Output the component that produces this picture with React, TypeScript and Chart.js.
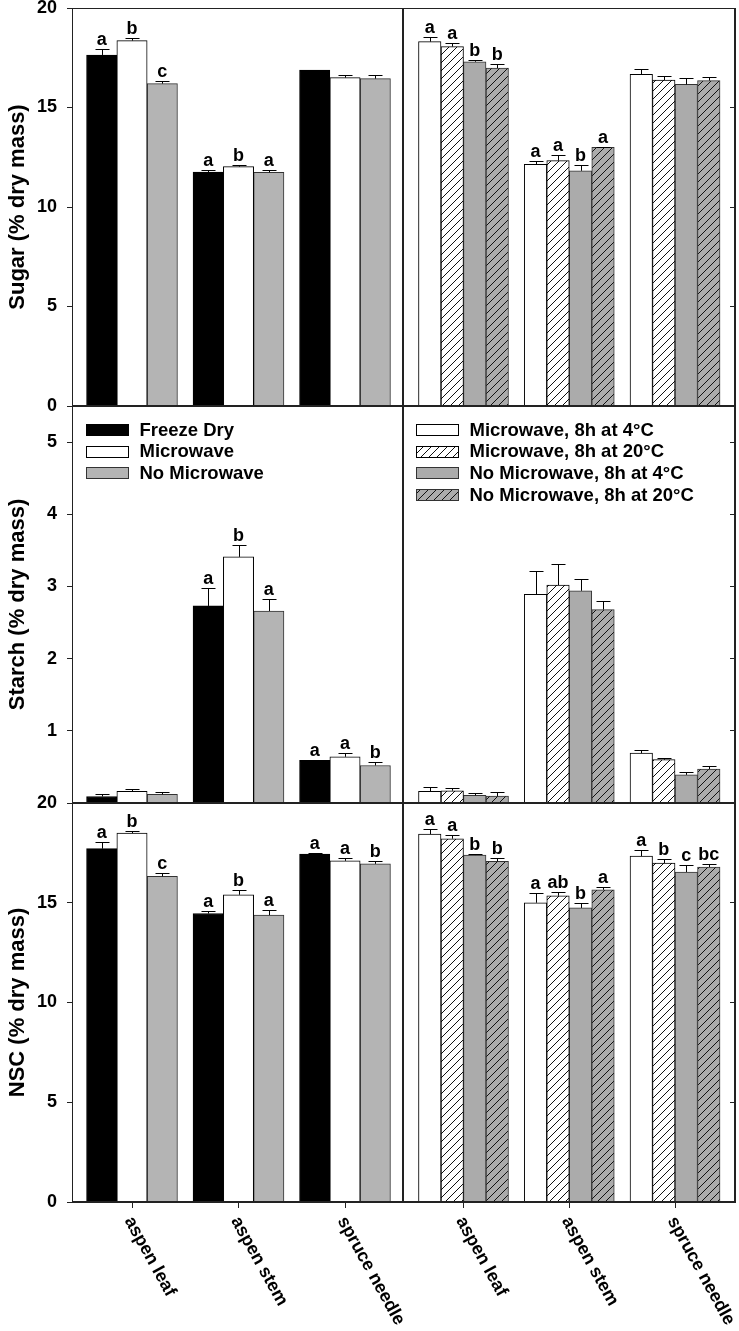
import React, { useEffect, useRef } from 'react';
import { Chart, registerables } from 'chart.js';

Chart.register(...registerables);

const FONT_FAMILY = '"Liberation Sans", Arial, Helvetica, sans-serif';

// ---------- data ----------
const categories = ['aspen leaf', 'aspen stem', 'spruce needle'];
const leftLabels = ['Freeze Dry', 'Microwave', 'No Microwave'];
const rightLabels = [
  'Microwave, 8h at 4°C',
  'Microwave, 8h at 20°C',
  'No Microwave, 8h at 4°C',
  'No Microwave, 8h at 20°C',
];

const sugarTicks = [0, 5, 10, 15, 20];
const starchTicks = [1, 2, 3, 4, 5];
const nscTicks = [0, 5, 10, 15, 20];

// Sugar, left
const sugarFreezeDry = [17.64, 11.76, 16.88];
const sugarFreezeDryErr = [0.3, 0.11, 0.02];
const sugarFreezeDryLetters = ['a', 'a', ''];
const sugarMicrowave = [18.36, 12.03, 16.5];
const sugarMicrowaveErr = [0.12, 0.1, 0.15];
const sugarMicrowaveLetters = ['b', 'b', ''];
const sugarNoMicrowave = [16.2, 11.74, 16.45];
const sugarNoMicrowaveErr = [0.13, 0.12, 0.17];
const sugarNoMicrowaveLetters = ['c', 'a', ''];

// Sugar, right
const sugarMW4 = [18.31, 12.14, 16.67];
const sugarMW4Err = [0.25, 0.15, 0.26];
const sugarMW4Letters = ['a', 'a', ''];
const sugarMW20 = [18.06, 12.33, 16.38];
const sugarMW20Err = [0.17, 0.28, 0.2];
const sugarMW20Letters = ['a', 'a', ''];
const sugarNoMW4 = [17.3, 11.82, 16.16];
const sugarNoMW4Err = [0.09, 0.27, 0.34];
const sugarNoMW4Letters = ['b', 'b', ''];
const sugarNoMW20 = [16.98, 13.0, 16.35];
const sugarNoMW20Err = [0.22, 0.03, 0.17];
const sugarNoMW20Letters = ['b', 'a', ''];

// Starch, left
const starchFreezeDry = [0.09, 2.73, 0.59];
const starchFreezeDryErr = [0.03, 0.25, 0.01];
const starchFreezeDryLetters = ['', 'a', 'a'];
const starchMicrowave = [0.16, 3.41, 0.64];
const starchMicrowaveErr = [0.03, 0.17, 0.05];
const starchMicrowaveLetters = ['', 'b', 'a'];
const starchNoMicrowave = [0.12, 2.66, 0.52];
const starchNoMicrowaveErr = [0.03, 0.17, 0.05];
const starchNoMicrowaveLetters = ['', 'a', 'b'];

// Starch, right
const starchMW4 = [0.16, 2.89, 0.69];
const starchMW4Err = [0.06, 0.33, 0.05];
const starchMW20 = [0.17, 3.02, 0.6];
const starchMW20Err = [0.04, 0.29, 0.02];
const starchNoMW4 = [0.105, 2.94, 0.39];
const starchNoMW4Err = [0.03, 0.17, 0.04];
const starchNoMW20 = [0.097, 2.68, 0.47];
const starchNoMW20Err = [0.05, 0.12, 0.04];
const noLetters = ['', '', ''];

// NSC, left
const nscFreezeDry = [17.71, 14.46, 17.44];
const nscFreezeDryErr = [0.33, 0.15, 0.03];
const nscFreezeDryLetters = ['a', 'a', 'a'];
const nscMicrowave = [18.49, 15.4, 17.1];
const nscMicrowaveErr = [0.13, 0.25, 0.15];
const nscMicrowaveLetters = ['b', 'b', 'a'];
const nscNoMicrowave = [16.32, 14.38, 16.95];
const nscNoMicrowaveErr = [0.15, 0.25, 0.15];
const nscNoMicrowaveLetters = ['c', 'a', 'b'];

// NSC, right
const nscMW4 = [18.44, 15.0, 17.34];
const nscMW4Err = [0.27, 0.48, 0.28];
const nscMW4Letters = ['a', 'a', 'a'];
const nscMW20 = [18.21, 15.35, 16.99];
const nscMW20Err = [0.2, 0.21, 0.18];
const nscMW20Letters = ['a', 'ab', 'b'];
const nscNoMW4 = [17.39, 14.74, 16.54];
const nscNoMW4Err = [0.05, 0.27, 0.35];
const nscNoMW4Letters = ['b', 'b', 'c'];
const nscNoMW20 = [17.07, 15.65, 16.79];
const nscNoMW20Err = [0.15, 0.13, 0.16];
const nscNoMW20Letters = ['b', 'a', 'bc'];

// ---------- styles ----------
type StyleDef = { fill: string; hatch: boolean; border: string };
const leftStyles: StyleDef[] = [
  { fill: '#000000', hatch: false, border: '#000000' },
  { fill: '#ffffff', hatch: false, border: '#000000' },
  { fill: '#b4b4b4', hatch: false, border: '#333333' },
];
const rightStyles: StyleDef[] = [
  { fill: '#ffffff', hatch: false, border: '#000000' },
  { fill: '#ffffff', hatch: true, border: '#000000' },
  { fill: '#ababab', hatch: false, border: '#333333' },
  { fill: '#ababab', hatch: true, border: '#333333' },
];

type SeriesDef = { label: string; values: number[]; errors: number[]; letters: string[] };

type PanelDef = {
  key: string;
  left: number;
  top: number;
  width: number;
  height: number;
  padding: { left: number; right: number; top: number; bottom: number };
  side: 'left' | 'right';
  xMin: number;
  xMax: number;
  yMax: number;
  yTicks: number[];
  title: string;
  barThickness: number;
  series: SeriesDef[];
  styles: StyleDef[];
  legend: boolean;
  bottomRow: boolean;
  xAxisHeight: number;
};

function mk(labels: string[], vals: number[][], errs: number[][], lets: string[][]): SeriesDef[] {
  return labels.map((label, k) => ({ label, values: vals[k], errors: errs[k], letters: lets[k] }));
}

const LEFT_GEOM = { left: 0, width: 420, padL: 0, padR: 17, xMin: -0.5634, xMax: 2.5446, bar: 30.3 };
const RIGHT_GEOM = { left: 400, width: 339, padL: 3, padR: 4, xMin: -0.572, xMax: 2.567, bar: 22.5 };
const ROWS = [
  { top: 0, height: 420, padT: 8, padB: 14, xh: 0 },
  { top: 390, height: 425, padT: 16, padB: 12, xh: 0 },
  { top: 783, height: 548, padT: 20, padB: 0, xh: 129 },
];

function panel(
  key: string,
  row: number,
  side: 'left' | 'right',
  yMax: number,
  yTicks: number[],
  title: string,
  series: SeriesDef[],
  legend: boolean
): PanelDef {
  const g = side === 'left' ? LEFT_GEOM : RIGHT_GEOM;
  const r = ROWS[row];
  return {
    key,
    left: g.left,
    top: r.top,
    width: g.width,
    height: r.height,
    padding: { left: g.padL, right: g.padR, top: r.padT, bottom: r.padB },
    side,
    xMin: g.xMin,
    xMax: g.xMax,
    yMax,
    yTicks,
    title,
    barThickness: g.bar,
    series,
    styles: side === 'left' ? leftStyles : rightStyles,
    legend,
    bottomRow: row === 2,
    xAxisHeight: r.xh,
  };
}

const panels: PanelDef[] = [
  panel('sugarL', 0, 'left', 20, sugarTicks, 'Sugar (% dry mass)',
    mk(leftLabels,
      [sugarFreezeDry, sugarMicrowave, sugarNoMicrowave],
      [sugarFreezeDryErr, sugarMicrowaveErr, sugarNoMicrowaveErr],
      [sugarFreezeDryLetters, sugarMicrowaveLetters, sugarNoMicrowaveLetters]), false),
  panel('sugarR', 0, 'right', 20, sugarTicks, '',
    mk(rightLabels,
      [sugarMW4, sugarMW20, sugarNoMW4, sugarNoMW20],
      [sugarMW4Err, sugarMW20Err, sugarNoMW4Err, sugarNoMW20Err],
      [sugarMW4Letters, sugarMW20Letters, sugarNoMW4Letters, sugarNoMW20Letters]), false),
  panel('starchL', 1, 'left', 5.5, starchTicks, 'Starch (% dry mass)',
    mk(leftLabels,
      [starchFreezeDry, starchMicrowave, starchNoMicrowave],
      [starchFreezeDryErr, starchMicrowaveErr, starchNoMicrowaveErr],
      [starchFreezeDryLetters, starchMicrowaveLetters, starchNoMicrowaveLetters]), true),
  panel('starchR', 1, 'right', 5.5, starchTicks, '',
    mk(rightLabels,
      [starchMW4, starchMW20, starchNoMW4, starchNoMW20],
      [starchMW4Err, starchMW20Err, starchNoMW4Err, starchNoMW20Err],
      [noLetters, noLetters, noLetters, noLetters]), true),
  panel('nscL', 2, 'left', 20, nscTicks, 'NSC (% dry mass)',
    mk(leftLabels,
      [nscFreezeDry, nscMicrowave, nscNoMicrowave],
      [nscFreezeDryErr, nscMicrowaveErr, nscNoMicrowaveErr],
      [nscFreezeDryLetters, nscMicrowaveLetters, nscNoMicrowaveLetters]), false),
  panel('nscR', 2, 'right', 20, nscTicks, '',
    mk(rightLabels,
      [nscMW4, nscMW20, nscNoMW4, nscNoMW20],
      [nscMW4Err, nscMW20Err, nscNoMW4Err, nscNoMW20Err],
      [nscMW4Letters, nscMW20Letters, nscNoMW4Letters, nscNoMW20Letters]), false),
];

function makeHatch(bg: string): CanvasPattern | string {
  const c = document.createElement('canvas');
  c.width = 8;
  c.height = 8;
  const g = c.getContext('2d');
  if (!g) return bg;
  g.fillStyle = bg;
  g.fillRect(0, 0, 8, 8);
  g.strokeStyle = '#111111';
  g.lineWidth = 1;
  g.beginPath();
  g.moveTo(-2, 10);
  g.lineTo(10, -2);
  g.moveTo(-2, 2);
  g.lineTo(2, -2);
  g.moveTo(6, 10);
  g.lineTo(10, 6);
  g.stroke();
  return g.createPattern(c, 'repeat') || bg;
}

const AXIS_COLOR = '#222222';

function Panel({ p }: { p: PanelDef }) {
  const ref = useRef<HTMLCanvasElement | null>(null);

  useEffect(() => {
    const canvas = ref.current;
    if (!canvas) return;
    const fills = p.styles.map((s) => (s.hatch ? makeHatch(s.fill) : s.fill));

    const errPlugin = {
      id: 'errbars',
      afterDatasetsDraw(chart: any) {
        const ctx = chart.ctx;
        const ys = chart.scales.y;
        ctx.save();
        ctx.strokeStyle = '#000';
        ctx.lineWidth = 1;
        ctx.fillStyle = '#000';
        ctx.font = `bold 18px ${FONT_FAMILY}`;
        ctx.textAlign = 'center';
        ctx.textBaseline = 'alphabetic';
        p.series.forEach((s, di) => {
          const meta = chart.getDatasetMeta(di);
          meta.data.forEach((el: any, i: number) => {
            const x = Math.round(el.x) + 0.5;
            const yTop = Math.round(ys.getPixelForValue(s.values[i] + s.errors[i])) + 0.5;
            ctx.beginPath();
            ctx.moveTo(x, el.y);
            ctx.lineTo(x, yTop);
            ctx.moveTo(x - 7, yTop);
            ctx.lineTo(x + 7, yTop);
            ctx.stroke();
            const L = s.letters[i];
            if (L) ctx.fillText(L, el.x, yTop - 5);
          });
        });
        ctx.restore();
      },
    };

    const framePlugin = {
      id: 'frame',
      afterDraw(chart: any) {
        const ctx = chart.ctx;
        const ca = chart.chartArea;
        ctx.save();
        ctx.strokeStyle = AXIS_COLOR;
        ctx.lineWidth = 1;
        const l = Math.round(ca.left) + 0.5;
        const t = Math.round(ca.top) + 0.5;
        const r = Math.round(ca.right) - 0.5;
        const b = Math.round(ca.bottom) - 0.5;
        ctx.strokeRect(l, t, r - l, b - t);
        ctx.restore();
      },
    };

    const legendPlugin = {
      id: 'panelLegend',
      afterDraw(chart: any) {
        if (!p.legend) return;
        const ctx = chart.ctx;
        const ca = chart.chartArea;
        ctx.save();
        ctx.font = `bold 18.5px ${FONT_FAMILY}`;
        ctx.textAlign = 'left';
        ctx.textBaseline = 'middle';
        const offX = p.side === 'left' ? 14 : 13;
        p.series.forEach((s, k) => {
          const cy = ca.top + 23.5 + k * 21.7;
          const bx = Math.round(ca.left + offX);
          const by = Math.round(cy - 5.5);
          ctx.fillStyle = fills[k] as any;
          ctx.fillRect(bx, by, 42, 11);
          ctx.strokeStyle = p.styles[k].border;
          ctx.lineWidth = 1;
          ctx.strokeRect(bx + 0.5, by + 0.5, 42, 11);
          ctx.fillStyle = '#000';
          ctx.fillText(s.label, bx + 53.5, cy + 1);
        });
        ctx.restore();
      },
    };

    const xLabelPlugin = {
      id: 'xlabels',
      afterDraw(chart: any) {
        if (!p.bottomRow) return;
        const ctx = chart.ctx;
        const ca = chart.chartArea;
        const xs = chart.scales.x;
        ctx.save();
        ctx.font = `bold 18px ${FONT_FAMILY}`;
        ctx.fillStyle = '#000';
        ctx.textAlign = 'left';
        ctx.textBaseline = 'middle';
        categories.forEach((c, i) => {
          const x = xs.getPixelForValue(i);
          ctx.save();
          ctx.translate(x - 3.5, ca.bottom + 16);
          ctx.rotate((61 * Math.PI) / 180);
          ctx.fillText(c, 0, 0);
          ctx.restore();
        });
        ctx.restore();
      },
    };

    const chart = new Chart(canvas, {
      type: 'bar',
      data: {
        datasets: p.series.map((s, k) => ({
          label: s.label,
          data: s.values.map((v, i) => ({ x: i, y: v })),
          backgroundColor: fills[k] as any,
          borderColor: p.styles[k].border,
          borderWidth: 1,
          borderSkipped: 'start',
          barThickness: p.barThickness,
        })),
      },
      options: {
        responsive: false,
        animation: false,
        events: [],
        layout: { padding: p.padding },
        plugins: {
          legend: { display: false },
          tooltip: { enabled: false },
          title: { display: false },
        },
        scales: {
          x: {
            type: 'linear',
            min: p.xMin,
            max: p.xMax,
            offset: false,
            afterBuildTicks: (s: any) => {
              s.ticks = categories.map((_, i) => ({ value: i }));
            },
            afterFit: (s: any) => {
              s.height = p.xAxisHeight;
              s.paddingLeft = 0;
              s.paddingRight = 0;
              s.paddingTop = 0;
              s.paddingBottom = 0;
            },
            ticks: { display: false },
            grid: {
              display: p.bottomRow,
              offset: false,
              drawOnChartArea: false,
              drawTicks: true,
              tickLength: 6,
              color: AXIS_COLOR,
              lineWidth: 1,
            },
            border: { display: true, color: AXIS_COLOR, width: 1 },
          },
          y: {
            type: 'linear',
            position: p.side,
            min: 0,
            max: p.yMax,
            afterBuildTicks: (s: any) => {
              s.ticks = p.yTicks.map((v) => ({ value: v }));
            },
            afterFit: (s: any) => {
              s.width = p.side === 'left' ? 72 : 0;
              s.paddingTop = 0;
              s.paddingBottom = 0;
              s.paddingLeft = 0;
              s.paddingRight = 0;
            },
            ticks: {
              display: p.side === 'left',
              padding: 10,
              color: '#000',
              font: { family: FONT_FAMILY, size: 18, weight: 'bold' },
            },
            grid: {
              display: true,
              drawOnChartArea: false,
              drawTicks: true,
              tickLength: p.side === 'left' ? 5 : -5,
              color: AXIS_COLOR,
              lineWidth: 1,
            },
            border: { display: true, color: AXIS_COLOR, width: 1 },
            title: {
              display: p.side === 'left',
              text: p.title,
              color: '#000',
              font: { family: FONT_FAMILY, size: 22, weight: 'bold' },
              padding: { top: 5, bottom: 0 },
            },
          },
        },
      } as any,
      plugins: [errPlugin, framePlugin, legendPlugin, xLabelPlugin],
    });

    return () => {
      chart.destroy();
    };
  }, [p]);

  return (
    <canvas
      ref={ref}
      width={p.width}
      height={p.height}
      style={{
        position: 'absolute',
        left: p.left,
        top: p.top,
        width: p.width,
        height: p.height,
      }}
    />
  );
}

export default function App() {
  return (
    <div
      style={{
        position: 'absolute',
        left: 0,
        top: 0,
        width: 739,
        height: 1331,
        background: '#ffffff',
        overflow: 'hidden',
      }}
    >
      {panels.map((p) => (
        <Panel key={p.key} p={p} />
      ))}
    </div>
  );
}
